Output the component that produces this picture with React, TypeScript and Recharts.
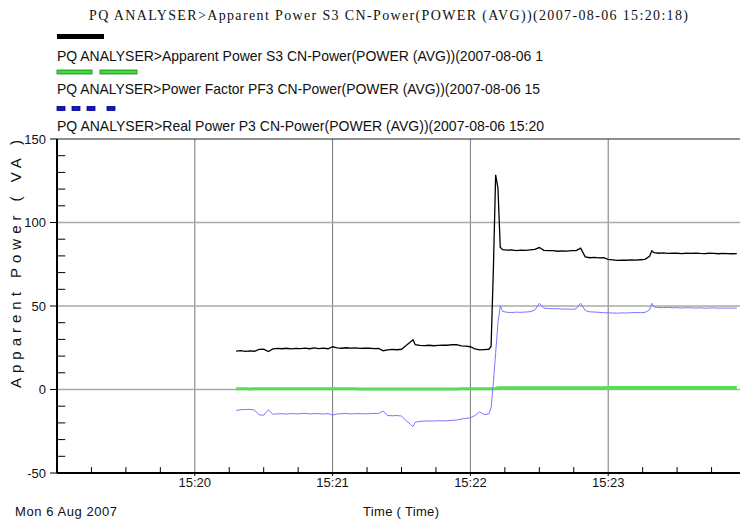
import { LineChart, Line, XAxis, YAxis, CartesianGrid, ReferenceLine } from "recharts";

// ── data (seconds after 15:19:00) ─────────────────────────────────────────

const SECONDS = [
  78, 80, 82, 84, 86, 88, 90, 92, 94, 96, 98, 100, 102, 104, 106, 108, 110, 112, 114, 116,
  118, 120, 122, 124, 126, 128, 130, 132, 134, 136, 138, 140, 142, 144, 146, 148, 150, 152, 154,
  155,
  156, 158, 160, 162, 164, 166, 168, 170, 172, 174, 176, 178, 180, 182, 184, 186, 188,
  189, 190, 191, 192, 193,
  194, 196, 198, 200, 202, 204, 206, 208, 210, 212, 214, 216, 218, 220, 222, 224, 226, 228,
  230, 232, 234, 236, 238, 240, 242, 244, 246, 248, 250, 252, 254, 256, 258,
  259,
  260, 262, 264, 266, 268, 270, 272, 274, 276, 278, 280, 282, 284, 286, 288, 290, 292, 294, 296,
];

// Apparent Power S3 (VA)
const APPARENT = [
  23.0, 23.3, 22.8, 23.1, 22.9, 24.0, 24.2, 22.7, 24.3, 24.6, 24.4, 24.7, 24.3, 24.6, 24.5, 24.8, 24.4, 24.9, 24.5, 24.8,
  24.4, 25.6, 24.9, 24.7, 25.0, 24.8, 24.9, 24.6, 24.8, 24.7, 24.5, 24.6, 23.2, 23.7, 24.0, 23.8, 24.1, 26.3, 28.6,
  29.8,
  26.8, 26.4, 26.3, 26.5, 26.2, 26.4, 26.6, 26.5, 26.9, 26.8, 26.1, 26.0, 25.6, 24.3, 23.7, 23.9, 24.1,
  25.8, 72.0, 128.6, 120.5, 85.2,
  83.7, 83.4, 83.6, 83.2, 83.5, 83.3, 83.6, 83.9, 85.0, 83.3, 83.1, 83.2, 82.8, 83.0, 82.9, 83.1, 83.2, 84.6,
  79.4, 78.9, 79.1, 78.8, 78.9, 77.9, 77.6, 77.3, 77.5, 77.4, 77.6, 77.5, 77.7, 77.9, 79.8,
  83.0,
  81.9, 81.6, 81.8, 81.5, 81.7, 81.6, 81.4, 81.6, 81.5, 81.7, 81.5, 81.4, 81.6, 81.5, 81.3, 81.5, 81.4, 81.3, 81.4,
];

// Power Factor PF3
const POWER_FACTOR = [
  0.4, 0.4, 0.4, 0.3, 0.4, 0.4, 0.4, 0.4, 0.4, 0.4, 0.4, 0.4, 0.4, 0.4, 0.4, 0.4, 0.4, 0.4, 0.4, 0.4,
  0.4, 0.4, 0.4, 0.4, 0.4, 0.4, 0.4, 0.3, 0.3, 0.3, 0.3, 0.3, 0.3, 0.3, 0.3, 0.3, 0.3, 0.3, 0.3,
  0.3,
  0.3, 0.3, 0.3, 0.3, 0.3, 0.3, 0.3, 0.3, 0.3, 0.3, 0.4, 0.4, 0.4, 0.4, 0.4, 0.4, 0.4,
  0.4, 0.4, 0.6, 1.1, 1.1,
  1.1, 1.1, 1.1, 1.1, 1.1, 1.1, 1.1, 1.1, 1.1, 1.1, 1.1, 1.1, 1.1, 1.1, 1.1, 1.1, 1.1, 1.1,
  1.1, 1.1, 1.1, 1.1, 1.1, 1.2, 1.2, 1.2, 1.2, 1.2, 1.2, 1.2, 1.2, 1.2, 1.2,
  1.2,
  1.2, 1.2, 1.2, 1.2, 1.2, 1.2, 1.2, 1.2, 1.2, 1.2, 1.2, 1.2, 1.2, 1.2, 1.2, 1.2, 1.2, 1.2, 1.2,
];

// Real Power P3 (W)
const REAL = [
  -12.6, -12.1, -12.0, -11.9, -12.3, -15.2, -15.4, -12.2, -14.8, -14.6, -14.5, -14.7, -14.4, -14.6, -14.5, -14.3, -14.6, -14.4, -14.5, -14.7,
  -14.4, -15.3, -14.6, -14.5, -14.4, -14.6, -14.5, -14.4, -14.6, -14.5, -14.3, -14.4, -12.9, -15.6, -15.7, -15.6, -15.9, -18.6, -21.0,
  -22.2,
  -19.6, -19.1, -18.9, -18.8, -18.9, -18.7, -18.8, -18.7, -18.5, -18.3, -17.7, -17.3, -16.9, -15.6, -13.4, -15.0, -14.7,
  -11.0, 4.0, 22.0, 40.0, 50.2,
  46.8, 46.2, 46.1, 46.3, 46.2, 46.4, 46.6, 47.5, 51.6, 48.7, 48.5, 48.3, 48.4, 48.1, 48.2, 48.0, 48.3, 51.6,
  47.3, 46.5, 46.4, 46.2, 46.0, 45.9, 45.8, 45.7, 45.9, 45.8, 46.0, 46.1, 46.0, 46.2, 47.6,
  51.6,
  49.4, 49.1, 49.0, 49.2, 48.9, 49.0, 48.8, 49.0, 48.9, 48.8, 48.9, 48.7, 48.8, 48.9, 48.7, 48.8, 48.7, 48.8, 48.7,
];

const X_TICKS = [60, 120, 180, 240];
const X_TICK_LABELS = ["15:20", "15:21", "15:22", "15:23"];
const X_MINOR = [15, 30, 45, 75, 90, 105, 135, 150, 165, 195, 210, 225, 255, 270, 285];
const Y_TICKS = [-50, 0, 50, 100, 150];
const Y_MINOR = [-40, -30, -20, -10, 10, 20, 30, 40, 60, 70, 80, 90, 110, 120, 130, 140];
const Y_GRID = [0, 50, 100];

const TITLE = "PQ ANALYSER>Apparent Power S3 CN-Power(POWER (AVG))(2007-08-06 15:20:18)";
const LEGEND_LABELS = [
  "PQ ANALYSER>Apparent Power S3 CN-Power(POWER (AVG))(2007-08-06 1",
  "PQ ANALYSER>Power Factor PF3 CN-Power(POWER (AVG))(2007-08-06 15",
  "PQ ANALYSER>Real Power P3 CN-Power(POWER (AVG))(2007-08-06 15:20",
];
const Y_LABEL = "Apparent Power ( VA )";
const X_LABEL = "Time ( Time)";
const DATE_LABEL = "Mon 6 Aug 2007";

// ── theme ─────────────────────────────────────────────────────────────────

const SANS = "'Liberation Sans', Arial, sans-serif";
const SERIF = "'Liberation Serif', 'Times New Roman', serif";
const TICK_STYLE = { fill: "#111", fontSize: 13, fontFamily: SANS };

const data = SECONDS.map((t, i) => ({
  t,
  apparent: APPARENT[i],
  pf: POWER_FACTOR[i],
  real: REAL[i],
}));

function Overlay() {
  return (
    <svg
      width={740}
      height={523}
      style={{ position: "absolute", left: 0, top: 0, pointerEvents: "none" }}
    >
      <text x={89} y={20} fontFamily={SERIF} fontSize={14} fill="#111" textLength={599} lengthAdjust="spacing">
        {TITLE}
      </text>

      {/* legend */}
      <rect x={57} y={34} width={47} height={5} fill="#000" />
      <text x={57} y={60.5} fontFamily={SANS} fontSize={15} fill="#111" textLength={486} lengthAdjust="spacingAndGlyphs">
        {LEGEND_LABELS[0]}
      </text>
      <rect x={57} y={70} width={35} height={4} fill="#3ddc3d" stroke="#1f7a1f" strokeWidth={0.8} />
      <rect x={100} y={70} width={37} height={4} fill="#3ddc3d" stroke="#1f7a1f" strokeWidth={0.8} />
      <text x={57} y={94} fontFamily={SANS} fontSize={15} fill="#111" textLength={483} lengthAdjust="spacingAndGlyphs">
        {LEGEND_LABELS[1]}
      </text>
      {[57, 72, 87, 107].map((x) => (
        <rect key={x} x={x} y={106.5} width={8} height={4} fill="#1414d8" stroke="#000080" strokeWidth={0.8} />
      ))}
      <text x={57} y={130.5} fontFamily={SANS} fontSize={15} fill="#111" textLength={487} lengthAdjust="spacingAndGlyphs">
        {LEGEND_LABELS[2]}
      </text>

      {/* axis titles */}
      <text
        transform="translate(21,388) rotate(-90)"
        fontFamily={SANS}
        fontSize={15}
        fill="#111"
        textLength={248}
        lengthAdjust="spacing"
      >
        {Y_LABEL}
      </text>
      <text x={15} y={516} fontFamily={SANS} fontSize={13} fill="#111" textLength={102} lengthAdjust="spacing">
        {DATE_LABEL}
      </text>
      <text x={363} y={516} fontFamily={SANS} fontSize={13} fill="#111" textLength={76} lengthAdjust="spacing">
        {X_LABEL}
      </text>
    </svg>
  );
}

export default function App() {
  return (
    <div
      style={{
        position: "absolute",
        left: 0,
        top: 0,
        width: 740,
        height: 523,
        overflow: "hidden",
        background: "#fff",
      }}
    >
      <LineChart
        width={750}
        height={523}
        data={data}
        margin={{ top: 139, right: 4, bottom: 0, left: 0 }}
      >
        <CartesianGrid horizontal={false} vertical verticalValues={X_TICKS} stroke="#777" strokeWidth={1} />
        <CartesianGrid vertical={false} horizontal horizontalValues={Y_GRID} stroke="#aaa" strokeWidth={1.6} />
        <XAxis
          dataKey="t"
          type="number"
          domain={[0, 300]}
          ticks={X_TICKS}
          interval={0}
          tickFormatter={(v: number) => X_TICK_LABELS[X_TICKS.indexOf(v)] ?? ""}
          tick={TICK_STYLE}
          tickSize={3}
          tickMargin={2}
          height={50}
          axisLine={{ stroke: "#000", strokeWidth: 2 }}
          tickLine={{ stroke: "#000" }}
        />
        <YAxis
          type="number"
          domain={[-50, 150]}
          ticks={Y_TICKS}
          interval={0}
          allowDataOverflow
          tick={TICK_STYLE}
          tickSize={7}
          tickMargin={4}
          width={57}
          axisLine={{ stroke: "#000", strokeWidth: 2 }}
          tickLine={{ stroke: "#000" }}
        />
        <ReferenceLine y={150} stroke="#222" strokeWidth={1.2} />
        {Y_MINOR.map((v) => (
          <ReferenceLine
            key={`y${v}`}
            segment={[{ x: 0, y: v }, { x: 3.6, y: v }]}
            stroke="#000"
            strokeWidth={1}
            ifOverflow="visible"
          />
        ))}
        {X_MINOR.map((v) => (
          <ReferenceLine
            key={`x${v}`}
            segment={[{ x: v, y: -50 }, { x: v, y: -46.5 }]}
            stroke="#000"
            strokeWidth={1}
            ifOverflow="visible"
          />
        ))}
        <Line dataKey="pf" type="linear" stroke="#55dd55" strokeWidth={3} dot={false} isAnimationActive={false} />
        <Line dataKey="real" type="linear" stroke="#7878ff" strokeWidth={1} dot={false} isAnimationActive={false} />
        <Line dataKey="apparent" type="linear" stroke="#000" strokeWidth={1.3} dot={false} isAnimationActive={false} />
      </LineChart>
      <Overlay />
    </div>
  );
}
